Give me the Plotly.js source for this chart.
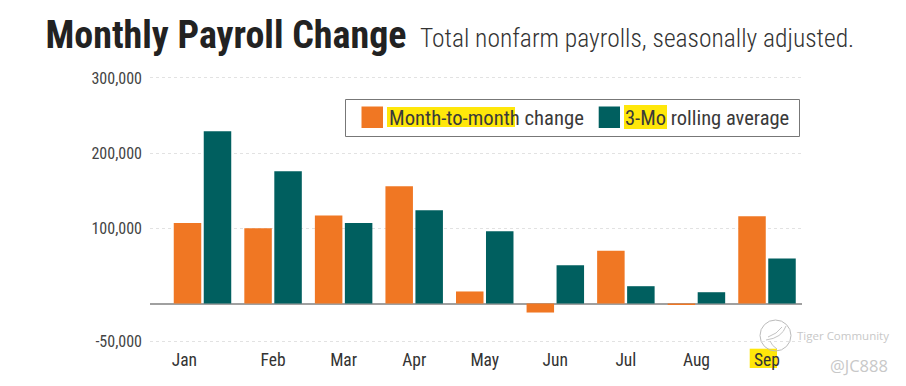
<!DOCTYPE html>
<html><head><meta charset="utf-8">
<script src="https://cdn.plot.ly/plotly-3.0.1.min.js"></script>
<style>html,body{margin:0;padding:0;background:#fff}#c{width:906px;height:386px}</style></head>
<body><div id="c"></div>
<script>
var months = ['Jan','Feb','Mar','Apr','May','Jun','Jul','Aug','Sep'];
var monthly = [107000,100000,117000,156000,16000,-12000,70000,-2000,116000];
var rolling = [229000,176000,107000,124000,96000,51000,23000,15000,60000];
var yTicks = [-50000,100000,200000,300000];
var yLabels = ['-50,000','100,000','200,000','300,000'];
var seriesNames = ['Month-to-month','3-Mo'];

var W=906,H=386,L=150,R=802,T=64,B=346;
var narrow='"Roboto Condensed","Roboto",sans-serif';
function px(x){return (x-L)/(R-L);}
function py(y){return (B-y)/(B-T);}
function rect(x0,y0,x1,y1,fill,line,layer){return {type:'rect',xref:'paper',yref:'paper',x0:px(x0),x1:px(x1),y0:py(y1),y1:py(y0),fillcolor:fill,line:line||{width:0},layer:layer||'below'};}
function label(x,y,t,size,color,anchor,extra){return Object.assign({xref:'paper',yref:'paper',x:px(x),y:py(y),text:t,showarrow:false,xanchor:anchor||'left',yanchor:'middle',borderpad:0,font:{family:narrow,size:size,color:color}},extra||{});}
function curve(pts){var p=pts.map(function(q){return px(q[0])+','+py(q[1]);});return {type:'path',xref:'paper',yref:'paper',path:'M'+p[0]+' Q'+p[1]+' '+p[2],line:{color:'#c4c4c4',width:1},layer:'above'};}

var yellow='#FFE70A';
var shapes=[
 rect(345.5,99.5,799.5,136.5,'rgba(0,0,0,0)',{color:'#777',width:1},'above'),
 rect(361.5,106.5,383,128,'#F07723'),
 rect(598.7,106.5,620,128,'#005F5F'),
 rect(387,107,515,127,yellow),
 rect(624,105,667,129,yellow),
 rect(749.7,348.7,777,368,yellow),
 {type:'circle',xref:'paper',yref:'paper',x0:px(760),x1:px(791),y0:py(351),y1:py(320),line:{color:'#bbb',width:1},fillcolor:'rgba(0,0,0,0)',layer:'above'},
 curve([[786,326],[782,338],[766,340]]),
 curve([[782,327],[777,334],[768,337]]),
 curve([[770,341],[772,346],[777,349]])
];
var annotations=[
 label(419,38.5,'Total nonfarm payrolls, seasonally adjusted.',25.5,'#333','left',{font:{family:narrow,size:25.5,color:'#333',weight:300}}),
 label(388,118,'Month-to-month change',20.7,'#3a3a3a'),
 label(624,118,'3-Mo rolling average',20.5,'#3a3a3a'),
 label(796,335,'Tiger Community',11.5,'#c8c8c8','left',{font:{family:'"Open Sans",sans-serif',size:11.5,color:'#c8c8c8'}}),
 label(889,365,'@JC888',16.5,'#c8c8c8','right',{font:{family:'"Open Sans",sans-serif',size:16.5,color:'#c8c8c8'}})
];
var tickText=months.slice();
tickText[0]='Jan'+'\u00A0'.repeat(9);
var traces=[
 {type:'bar',name:seriesNames[0],x:months,y:monthly,marker:{color:'#F07723'}},
 {type:'bar',name:seriesNames[1],x:months,y:rolling,marker:{color:'#005F5F'}}
];
var pxPer=75.2/100000, zeroPx=303.5;
var layout={
 width:W,height:H,paper_bgcolor:'#fff',plot_bgcolor:'rgba(0,0,0,0)',
 margin:{l:L,r:W-R,t:T,b:H-B,pad:0},
 showlegend:false,barmode:'group',bargap:0.15,bargroupgap:0.083,
 title:{text:'Monthly Payroll Change',x:45.5/W,xanchor:'left',xref:'container',y:1-35/H,yref:'container',yanchor:'middle',font:{family:narrow,size:38,color:'#222',weight:700}},
 xaxis:{type:'category',categoryorder:'array',categoryarray:months,tickmode:'array',tickvals:months,ticktext:tickText,tickangle:0,range:[-0.744,8.496],showgrid:false,zeroline:false,showline:false,ticks:'',ticklabelstandoff:1,tickfont:{family:narrow,size:17.5,color:'#333'}},
 yaxis:{range:[(zeroPx-B)/pxPer,(zeroPx-T)/pxPer],tickmode:'array',tickvals:yTicks,ticktext:yLabels,showgrid:true,gridcolor:'#e2e2e2',griddash:'dot',gridwidth:1,zeroline:true,zerolinecolor:'#a0a0a0',zerolinewidth:2,showline:false,ticks:'',ticklabelstandoff:7,tickfont:{family:narrow,size:16,color:'#444'}},
 shapes:shapes,annotations:annotations
};
Plotly.newPlot('c',traces,layout,{displayModeBar:false,staticPlot:true});
</script></body></html>
